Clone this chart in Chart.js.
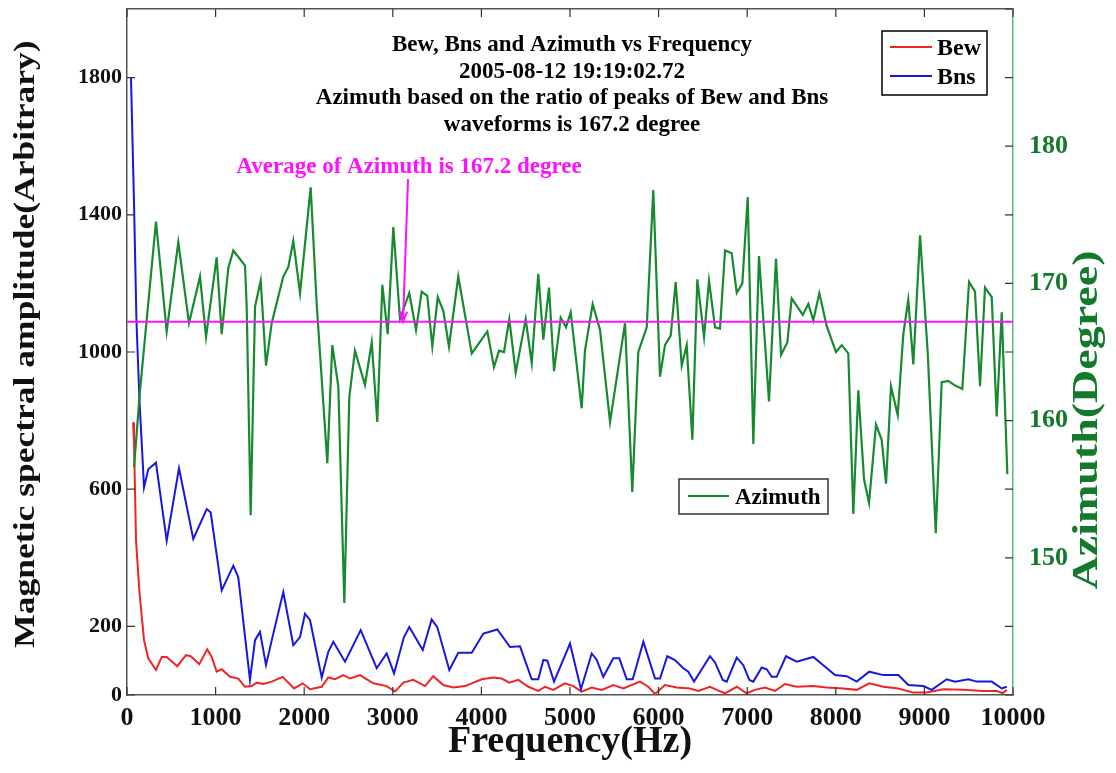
<!DOCTYPE html>
<html>
<head>
<meta charset="utf-8">
<script src="https://cdn.jsdelivr.net/npm/chart.js@4.4.0/dist/chart.umd.min.js"></script>
<style>
  html, body { margin: 0; padding: 0; background: #fff; }
  #wrap { width: 1116px; height: 773px; position: relative; }
</style>
</head>
<body>
<div id="wrap"><canvas id="chart"></canvas></div>
<script>
// azimuth (degree) against frequency (Hz)
const freqAz = [79,147,327,448,579,700,824,892,1012,1069,1143,1200,1332,1351,1396,1445,1509,1569,1633,1764,
  1821,1877,1953,2073,2141,2261,2317,2385,2453,2509,2573,2686,2762,2825,2882,2943,3006,3081,3186,3262,
  3326,3389,3446,3507,3570,3634,3739,3891,4067,4142,4199,4255,4315,4387,4500,4568,4642,4699,4763,4820,
  4895,4955,5008,5132,5169,5256,5339,5452,5621,5703,5771,5866,5940,6016,6072,6137,6193,6261,6317,6381,
  6437,6513,6569,6637,6693,6750,6825,6882,6945,7006,7069,7133,7246,7325,7382,7453,7502,7627,7690,7746,
  7814,7897,8002,8067,8141,8198,8254,8319,8375,8454,8518,8567,8623,8699,8762,8818,8875,8951,9038,9128,
  9195,9270,9334,9428,9504,9571,9628,9684,9760,9816,9873,9936];
const azimuth = [156.6,162.2,174.5,166.5,173.0,167.1,170.5,166.1,171.9,166.3,171.1,172.4,171.3,168.3,153.1,168.3,170.2,164.0,167.1,170.5,
  171.2,173.1,169.3,177.0,168.5,156.9,165.5,162.5,146.7,161.7,165.1,162.6,165.7,159.9,169.9,166.3,174.1,167.4,169.3,166.6,
  169.4,169.1,165.4,169.0,168.0,165.4,170.5,164.9,166.5,163.9,165.1,165.0,167.4,163.5,167.4,164.2,170.7,165.9,169.7,163.6,
  167.5,166.8,167.9,160.9,165.1,168.5,166.6,159.9,167.1,154.8,165.0,166.8,176.8,163.2,165.5,166.2,170.1,164.0,165.5,158.6,
  170.3,166.1,170.2,166.8,166.7,172.4,172.2,169.3,170.0,176.3,158.3,172.0,161.4,171.8,164.8,165.7,168.9,167.7,168.5,167.3,
  169.3,166.9,165.0,165.5,164.9,153.2,162.2,155.7,154.0,159.7,158.6,155.4,162.5,160.4,166.3,168.8,164.1,173.5,164.9,151.8,
  162.8,162.9,162.6,162.3,170.1,169.4,162.5,169.7,169.0,160.3,167.9,156.1];

// Bns spectral amplitude
const freqBns = [45,79,107,141,177,192,240,327,448,587,748,900,945,1069,1200,1256,1388,1445,1501,1569,
  1651,1764,1877,1953,2009,2066,2198,2272,2329,2461,2638,2818,2931,3014,3126,3186,3338,3439,3502,3638,
  3739,3891,4022,4180,4323,4436,4568,4642,4699,4744,4820,5000,5124,5245,5301,5376,5489,5557,5640,5708,
  5828,5960,6016,6098,6185,6279,6335,6400,6580,6637,6724,6769,6882,6956,7024,7069,7164,7220,7277,7333,
  7438,7559,7746,7859,7991,8123,8236,8378,8536,8706,8819,8988,9083,9252,9346,9496,9590,9760,9873,9929];
const bns = [1800,1437,1089,857,682,605,658,677,450,661,455,542,532,305,377,343,44,160,184,87,
  179,300,145,169,237,218,51,126,155,97,189,78,121,63,169,198,131,220,198,73,
  123,123,179,191,140,142,46,46,102,100,39,150,17,121,103,53,107,107,46,46,
  155,48,48,113,102,78,68,39,113,95,44,39,109,87,44,39,80,75,53,53,
  113,97,111,87,58,55,39,68,58,58,29,26,15,46,39,46,39,39,19,24];

// Bew spectral amplitude
const freqBew = [68,79,102,139,192,240,327,392,448,568,666,719,816,906,956,1012,1069,1163,1256,1332,
  1407,1464,1538,1633,1757,1885,1983,2066,2198,2272,2348,2441,2517,2630,2780,2931,3025,3119,3231,3364,
  3457,3570,3683,3815,4004,4134,4229,4315,4417,4529,4642,4718,4812,4944,5037,5132,5245,5358,5489,5602,
  5790,5884,5960,6072,6205,6355,6448,6580,6655,6750,6882,6994,7088,7201,7314,7427,7559,7746,7897,8085,
  8236,8378,8536,8706,8875,9026,9214,9440,9665,9816,9884,9929];
const bew = [795,740,450,305,160,107,73,111,111,84,116,113,90,133,111,68,75,53,48,24,
  26,36,32,39,53,19,34,17,24,51,46,58,48,58,34,26,10,36,44,26,
  55,29,22,26,46,51,48,36,44,24,12,24,15,34,26,10,22,15,29,19,
  39,24,3,29,22,19,12,24,15,5,24,5,15,22,12,32,24,26,22,19,
  15,34,24,19,7,7,17,15,12,12,5,15];

const xTicks = [0,1000,2000,3000,4000,5000,6000,7000,8000,9000,10000];
const ampTicks = [0,200,600,1000,1400,1800];
const azTicks = [140,145,150,155,160,165,170,175,180,185,190];
const azLabels = [150,160,170,180];
const avgAzimuth = 167.2;
// arrow from the caption down to the average line: [freq, azimuth] tail, freq at tip
const arrowTail = [3172, 177.6];
const arrowTipFreq = 3115;

const titleLines = [
  'Bew, Bns and Azimuth vs Frequency',
  '2005-08-12 19:19:02.72',
  'Azimuth based on the ratio of peaks of Bew and Bns',
  'waveforms is 167.2 degree'
];
const avgCaption = 'Average of Azimuth is 167.2 degree';
const ampTitle = 'Magnetic spectral amplitude(Arbitrary)';
const azTitle = 'Azimuth(Degree)';

const serif = '"Liberation Serif", "Times New Roman", serif';
const RED = '#f02424', BLUE = '#1818dc', GREEN = '#178a30', MAGENTA = '#ff10ff';
const AXIS = '#555', AXIS_GREEN = '#5cba78', LABEL_GREEN = '#137a2c';

const toPoints = (xs, ys) => xs.map((x, i) => ({ x, y: ys[i] }));

// fixed box sizes, no extra padding for end labels
const fixHeight = h => s => { s.height = h; s.paddingLeft = 0; s.paddingRight = 0; };
const fixWidth = w => s => { s.width = w; s.paddingTop = 0; s.paddingBottom = 0; };

// inward tick marks on all four sides of the box
const frameTicks = {
  id: 'frameTicks',
  afterDatasetsDraw(chart) {
    const { ctx, chartArea: a, scales } = chart;
    const len = 8;
    ctx.save();
    ctx.strokeStyle = '#333';
    ctx.lineWidth = 1.2;
    ctx.beginPath();
    xTicks.forEach(v => {
      const px = scales.x.getPixelForValue(v);
      ctx.moveTo(px, a.bottom); ctx.lineTo(px, a.bottom - len);
      ctx.moveTo(px, a.top); ctx.lineTo(px, a.top + len);
    });
    ampTicks.forEach(v => {
      const py = scales.yAmp.getPixelForValue(v);
      ctx.moveTo(a.left, py); ctx.lineTo(a.left + len, py);
    });
    azTicks.forEach(v => {
      const py = scales.yAz.getPixelForValue(v);
      ctx.moveTo(a.right, py); ctx.lineTo(a.right - len, py);
    });
    ctx.stroke();
    ctx.restore();
  }
};

// vertical axis title, reading upward, slightly narrowed
function sideTitle(ctx, text, cx, cy, size, squeeze, color) {
  ctx.save();
  ctx.translate(cx, cy);
  ctx.rotate(-Math.PI / 2);
  ctx.scale(1, squeeze);
  ctx.textAlign = 'center';
  ctx.textBaseline = 'middle';
  ctx.fillStyle = color;
  ctx.font = `bold ${size}px ${serif}`;
  ctx.fillText(text, 0, 0);
  ctx.restore();
}

// title block, average caption + arrow, the two legends and both axis titles
const overlay = {
  id: 'overlay',
  afterDraw(chart) {
    const { ctx, chartArea: a, scales: { x, yAz } } = chart;
    ctx.save();

    ctx.fillStyle = '#000';
    ctx.font = `bold 23px ${serif}`;
    ctx.textAlign = 'center';
    ctx.textBaseline = 'alphabetic';
    const cx = (a.left + a.right) / 2 + 2;
    titleLines.forEach((t, i) => ctx.fillText(t, cx, a.top + 42 + i * 26.5));

    // arrow to the average line
    const tx = x.getPixelForValue(arrowTail[0]), ty = yAz.getPixelForValue(arrowTail[1]);
    const hx = x.getPixelForValue(arrowTipFreq), hy = yAz.getPixelForValue(avgAzimuth);
    ctx.strokeStyle = MAGENTA;
    ctx.lineWidth = 2;
    ctx.beginPath();
    ctx.moveTo(tx, ty); ctx.lineTo(hx, hy);
    const ang = Math.atan2(hy - ty, hx - tx);
    ctx.moveTo(hx - 11 * Math.cos(ang - 0.35), hy - 11 * Math.sin(ang - 0.35));
    ctx.lineTo(hx, hy);
    ctx.lineTo(hx - 11 * Math.cos(ang + 0.35), hy - 11 * Math.sin(ang + 0.35));
    ctx.stroke();
    ctx.fillStyle = MAGENTA;
    ctx.font = `bold 23px ${serif}`;
    ctx.fillText(avgCaption, tx + 1, ty - 6);

    // legend for Bew / Bns
    ctx.lineWidth = 1.5;
    ctx.strokeStyle = '#000';
    ctx.fillStyle = '#fff';
    const L1 = { x: 882, y: 31, w: 105, h: 64 };
    ctx.fillRect(L1.x, L1.y, L1.w, L1.h);
    ctx.strokeRect(L1.x, L1.y, L1.w, L1.h);
    [[RED, 'Bew', 47], [BLUE, 'Bns', 76]].forEach(([c, t, yy]) => {
      ctx.strokeStyle = c; ctx.lineWidth = 2;
      ctx.beginPath(); ctx.moveTo(890, yy); ctx.lineTo(932, yy); ctx.stroke();
      ctx.fillStyle = '#000';
      ctx.font = `bold 24px ${serif}`;
      ctx.textAlign = 'left';
      ctx.fillText(t, 937, yy + 8);
    });

    // legend for Azimuth
    ctx.fillStyle = '#fff';
    ctx.strokeStyle = '#333';
    ctx.lineWidth = 1.5;
    const L2 = { x: 679, y: 479, w: 149, h: 35 };
    ctx.fillRect(L2.x, L2.y, L2.w, L2.h);
    ctx.strokeRect(L2.x, L2.y, L2.w, L2.h);
    ctx.strokeStyle = GREEN; ctx.lineWidth = 2;
    ctx.beginPath(); ctx.moveTo(688, 496); ctx.lineTo(729, 496); ctx.stroke();
    ctx.fillStyle = '#000';
    ctx.font = `bold 23px ${serif}`;
    ctx.fillText('Azimuth', 735, 504);
    ctx.restore();

    const midY = (a.top + a.bottom) / 2;
    sideTitle(ctx, ampTitle, 26, midY - 8, 35.5, 0.85, '#111');
    sideTitle(ctx, azTitle, 1088, midY + 68, 46, 0.78, LABEL_GREEN);
  }
};

new Chart(document.getElementById('chart'), {
  type: 'line',
  data: {
    datasets: [
      { label: 'Average', data: [{ x: 0, y: avgAzimuth }, { x: 10000, y: avgAzimuth }], yAxisID: 'yAz',
        borderColor: MAGENTA, borderWidth: 2 },
      { label: 'Azimuth', data: toPoints(freqAz, azimuth), yAxisID: 'yAz', borderColor: GREEN, borderWidth: 2.2 },
      { label: 'Bns', data: toPoints(freqBns, bns), yAxisID: 'yAmp', borderColor: BLUE, borderWidth: 2 },
      { label: 'Bew', data: toPoints(freqBew, bew), yAxisID: 'yAmp', borderColor: RED, borderWidth: 2 }
    ]
  },
  options: {
    responsive: true,
    maintainAspectRatio: false,
    animation: false,
    layout: { padding: 0 },
    elements: { point: { radius: 0 }, line: { tension: 0, fill: false } },
    plugins: { legend: { display: false }, tooltip: { enabled: false } },
    scales: {
      x: {
        type: 'linear', position: 'bottom', min: 0, max: 10000,
        afterBuildTicks: s => { s.ticks = xTicks.map(v => ({ value: v })); },
        afterFit: fixHeight(78),
        grid: { display: false, drawTicks: false },
        border: { color: AXIS, width: 1.5 },
        ticks: { color: '#111', padding: 8, maxRotation: 0, autoSkip: false,
          font: { family: serif, size: 26, weight: 'bold' }, callback: v => String(v) },
        title: { display: true, text: 'Frequency(Hz)', color: '#111',
          font: { family: serif, size: 38, weight: 'bold' }, padding: { top: 0, bottom: 8 } }
      },
      xTop: {
        type: 'linear', position: 'top', min: 0, max: 10000,
        afterFit: fixHeight(9),
        grid: { display: false, drawTicks: false },
        border: { color: AXIS, width: 1.5 },
        ticks: { display: false }
      },
      yAmp: {
        type: 'linear', position: 'left', min: 0, max: 2000,
        afterBuildTicks: s => { s.ticks = ampTicks.map(v => ({ value: v })); },
        afterFit: fixWidth(127),
        grid: { display: false, drawTicks: false },
        border: { color: AXIS, width: 1.5 },
        ticks: { color: '#111', padding: 5, font: { family: serif, size: 22, weight: 'bold' },
          callback: v => String(v) }
      },
      yAz: {
        type: 'linear', position: 'right', min: 140, max: 190,
        afterBuildTicks: s => { s.ticks = azTicks.map(v => ({ value: v })); },
        afterFit: fixWidth(103),
        grid: { display: false, drawTicks: false },
        border: { color: AXIS_GREEN, width: 1.5 },
        ticks: { color: LABEL_GREEN, padding: 16, font: { family: serif, size: 26, weight: 'bold' },
          callback: v => (azLabels.includes(v) ? String(v) : '') }
      }
    }
  },
  plugins: [frameTicks, overlay]
});
</script>
</body>
</html>
